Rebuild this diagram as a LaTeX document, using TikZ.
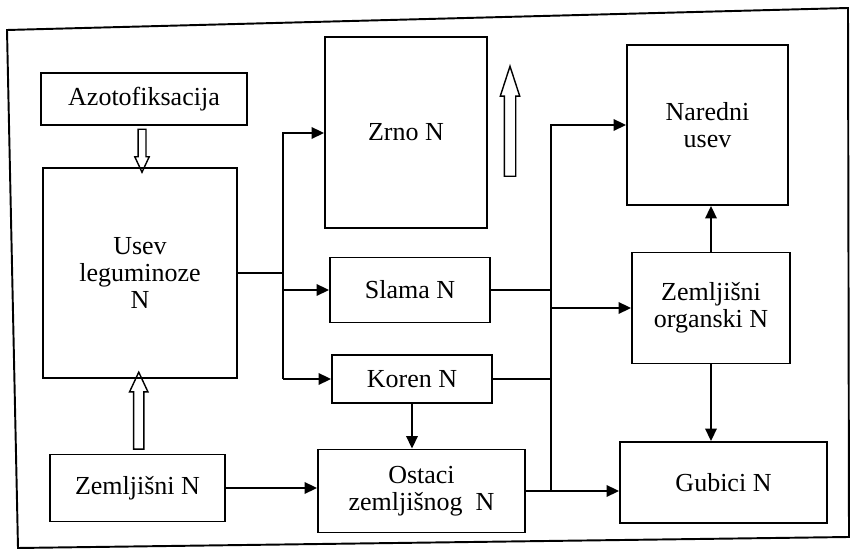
\documentclass[tikz,border=0pt]{standalone}
\usepackage{fontspec}
\setmainfont{Liberation Serif}
\usetikzlibrary{arrows.meta,calc,shapes.arrows}

\begin{document}
\begin{tikzpicture}[
  x=0.02cm, y=-0.02cm,
  font=\fontsize{14.8}{15.5}\selectfont,
  block/.style={draw, line width=1.1pt, align=center, inner sep=2pt},
  hollow/.style={draw, line width=0.8pt, single arrow, inner xsep=0pt, inner ysep=0.09cm,
    minimum width=0pt, single arrow head extend=0.08cm, single arrow tip angle=50},
  line/.style={line width=1.1pt},
  >={Triangle[length=0.25cm, width=0.23cm]}
]
\useasboundingbox (0,0) rectangle (853,553);
\draw[line width=1.1pt] (7,30) -- (848,8) -- (849,537) -- (18,548) -- cycle;

\node[block, minimum width=4.12cm, minimum height=1.04cm] (azot) at (144,99) {Azotofiksacija};
\node[block, minimum width=3.88cm, minimum height=4.2cm] (usev) at (140,273) {Usev\\leguminoze\\N};
\node[block, minimum width=3.5cm, minimum height=1.34cm] (zem) at (137.5,488) {Zemljišni N};
\node[block, minimum width=3.24cm, minimum height=3.82cm] (zrno) at (406,132.5) {Zrno N};
\node[block, minimum width=3.2cm, minimum height=1.3cm] (slama) at (410,290) {Slama N};
\node[block, minimum width=3.2cm, minimum height=0.96cm] (koren) at (412,379) {Koren N};
\node[block, minimum width=4.14cm, minimum height=1.66cm] (ostaci) at (421.5,491) {Ostaci\\zemljišnog\enspace N};
\node[block, minimum width=3.22cm, minimum height=3.2cm] (nared) at (707.5,125) {Naredni\\usev};
\node[block, minimum width=3.16cm, minimum height=2.22cm] (zorg) at (711,308) {Zemljišni\\organski N};
\node[block, minimum width=4.14cm, minimum height=1.62cm] (gub) at (723.5,482.5) {Gubici N};

% hollow arrows
\node[hollow, minimum height=0.86cm, rotate=-90, inner ysep=0.065cm, single arrow head extend=0.065cm] (fix) at ($(azot.south)!.5!(usev.north)$) {};
\node[hollow, minimum height=1.54cm, rotate=90] (uptake) at ($(zem.north)!.5!(usev.south)$) {};
\node[hollow, minimum height=2.2cm, rotate=90, inner ysep=0.1cm, single arrow tip angle=36] (rise) at (510,130) {};

% split of the crop
\coordinate (split) at (283,133);
\coordinate (merge) at (551,125);
\draw[line] (usev.east) -- (split |- usev.east);
\draw[line,->] (split |- koren.west) -- (split) -- (zrno.west |- split);
\draw[line,->] (split |- slama.west) -- (slama.west);
\draw[line,->] (split |- koren.west) -- (koren.west);
\draw[line,->] (koren.south) -- (koren.south |- ostaci.north);
\draw[line,->] (zem.east) -- (zem.east -| ostaci.west);

% return to the soil
\draw[line,->] (merge |- ostaci.east) -- (merge) -- (nared.west |- merge);
\draw[line] (slama.east) -- (merge |- slama.east);
\draw[line] (koren.east) -- (merge |- koren.east);
\draw[line,->] (merge |- zorg.west) -- (zorg.west);
\draw[line,->] (ostaci.east) -- (ostaci.east -| gub.west);
\draw[line,->] (zorg.north) -- (zorg.north |- nared.south);
\draw[line,->] (zorg.south) -- (zorg.south |- gub.north);
\end{tikzpicture}
\end{document}
